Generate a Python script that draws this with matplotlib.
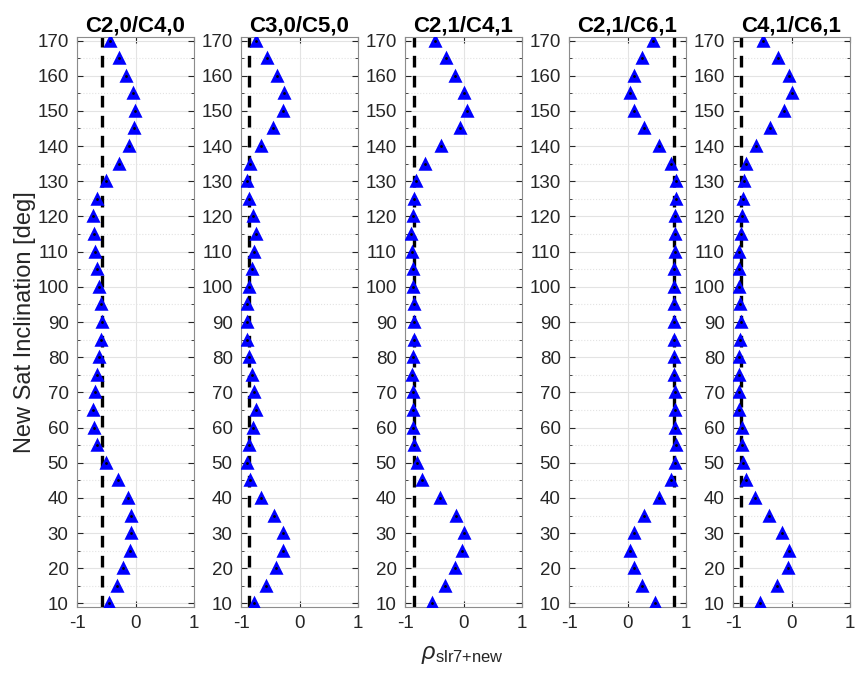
import matplotlib.pyplot as plt
import numpy as np

plt.rcParams['font.family'] = ['Liberation Sans', 'DejaVu Sans']
plt.rcParams['axes.unicode_minus'] = False
plt.rcParams['mathtext.fontset'] = 'custom'
plt.rcParams['mathtext.rm'] = 'Liberation Sans'
plt.rcParams['mathtext.it'] = 'Liberation Sans:italic'

titles = ['C2,0/C4,0', 'C3,0/C5,0', 'C2,1/C4,1', 'C2,1/C6,1', 'C4,1/C6,1']
incl = [170, 165, 160, 155, 150, 145, 140, 135, 130, 125, 120, 115, 110, 105, 100, 95,
        90, 85, 80, 75, 70, 65, 60, 55, 50, 45, 40, 35, 30, 25, 20, 15, 10]

rho_c20_c40 = [-0.44, -0.29, -0.17, -0.05, -0.01, -0.03, -0.11, -0.29, -0.50, -0.66, -0.73,
               -0.71, -0.69, -0.66, -0.62, -0.59, -0.58, -0.59, -0.62, -0.66, -0.69, -0.73,
               -0.71, -0.66, -0.50, -0.30, -0.13, -0.07, -0.07, -0.10, -0.21, -0.31, -0.46]
rho_c30_c50 = [-0.74, -0.56, -0.39, -0.27, -0.29, -0.46, -0.66, -0.85, -0.90, -0.86, -0.80,
               -0.74, -0.77, -0.82, -0.86, -0.89, -0.89, -0.89, -0.86, -0.82, -0.78, -0.75,
               -0.80, -0.86, -0.89, -0.85, -0.66, -0.43, -0.29, -0.29, -0.41, -0.58, -0.77]
rho_c21_c41 = [-0.48, -0.30, -0.15, 0.00, 0.06, -0.06, -0.38, -0.66, -0.81, -0.85, -0.86,
               -0.89, -0.88, -0.86, -0.86, -0.85, -0.85, -0.85, -0.87, -0.88, -0.87, -0.87,
               -0.86, -0.84, -0.80, -0.71, -0.40, -0.12, 0.01, -0.03, -0.15, -0.31, -0.54]
rho_c21_c61 = [0.43, 0.25, 0.11, 0.04, 0.11, 0.28, 0.53, 0.74, 0.83, 0.83, 0.82,
               0.82, 0.81, 0.80, 0.80, 0.80, 0.80, 0.80, 0.80, 0.80, 0.81, 0.82,
               0.82, 0.83, 0.82, 0.74, 0.53, 0.28, 0.11, 0.05, 0.11, 0.25, 0.47]
rho_c41_c61 = [-0.49, -0.23, -0.05, 0.01, -0.13, -0.37, -0.61, -0.77, -0.82, -0.83, -0.85,
               -0.87, -0.90, -0.90, -0.89, -0.88, -0.87, -0.88, -0.90, -0.90, -0.90, -0.89,
               -0.85, -0.85, -0.83, -0.77, -0.62, -0.39, -0.17, -0.05, -0.06, -0.25, -0.54]
# correlation of the existing solution (dashed line)
rho_ref = [-0.58, -0.86, -0.84, 0.80, -0.86]

series = [rho_c20_c40, rho_c30_c50, rho_c21_c41, rho_c21_c61, rho_c41_c61]

W, H = 858, 673
fig = plt.figure(figsize=(W / 100, H / 100), dpi=100)

lefts = [77, 241, 405, 569, 733]
ax_w, top, bottom = 117, 37, 607
edge = '#262626'

for i in range(5):
    ax = fig.add_axes([lefts[i] / W, 1 - bottom / H, ax_w / W, (bottom - top) / H])
    ax.set_xlim(-1, 1)
    ax.set_ylim(9, 171)
    ax.set_xticks([-1, 0, 1])
    ax.set_yticks(np.arange(10, 171, 10))
    ax.set_yticks(np.arange(15, 171, 10), minor=True)
    ax.grid(True, which='major', color='#e3e3e3', linewidth=0.8)
    ax.grid(True, which='minor', axis='y', color='#e3e3e3', linestyle=':', linewidth=0.8)
    ax.set_axisbelow(True)
    ax.tick_params(direction='in', length=4, colors=edge, labelsize=13.5, pad=6,
                   top=True, right=True)
    ax.tick_params(which='minor', direction='in', length=2.5, colors=edge, right=True,
                   left=True)
    for s in ax.spines.values():
        s.set_color('#8c8c8c')
        s.set_linewidth(0.8)
    ax.axvline(rho_ref[i], color='black', linestyle=(0, (3.5, 2.5)), linewidth=2.4, zorder=2)
    ax.plot(series[i], incl, linestyle='none', marker='^', markersize=6.5, color='blue',
            markeredgecolor='blue', markeredgewidth=1.8, zorder=3)
    ax.plot(series[i], incl, linestyle='none', marker='.', markersize=2, color='black', zorder=4)
    ax.set_title(titles[i], fontsize=16, fontweight='bold', pad=4)
    if i == 0:
        ax.set_ylabel('New Sat Inclination [deg]', fontsize=17, color=edge, labelpad=1)

fig.text(462 / W, 1 - 655 / H, r'$\rho_{\mathrm{slr7{+}new}}$', ha='center', va='center',
         fontsize=17, color=edge)

fig.savefig('out.png', dpi=100, facecolor='white')
